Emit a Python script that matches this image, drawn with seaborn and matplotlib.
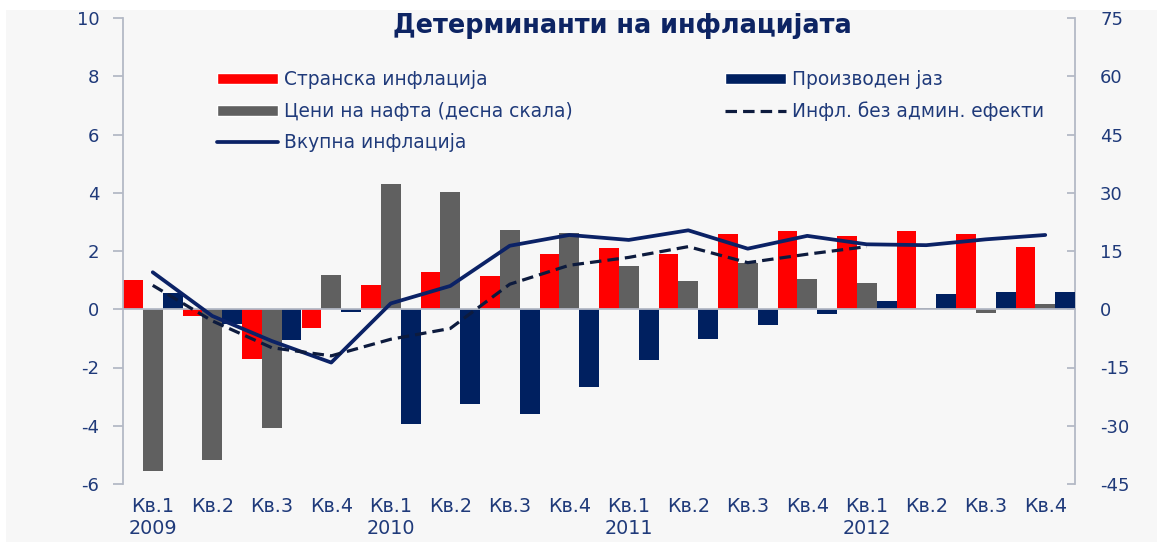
import numpy as np
import pandas as pd
import matplotlib
matplotlib.use("Agg")
import matplotlib.pyplot as plt
from matplotlib.patches import Patch, Rectangle
from matplotlib.lines import Line2D
import seaborn as sns

# data
quarters = ["Кв.1\n2009", "Кв.2", "Кв.3", "Кв.4",
            "Кв.1\n2010", "Кв.2", "Кв.3", "Кв.4",
            "Кв.1\n2011", "Кв.2", "Кв.3", "Кв.4",
            "Кв.1\n2012", "Кв.2", "Кв.3", "Кв.4"]
foreign_infl = [1.0, -0.23, -1.7, -0.64, 0.82, 1.27, 1.13, 1.89,
                2.1, 1.89, 2.57, 2.68, 2.5, 2.68, 2.57, 2.13]
output_gap = [0.55, -0.52, -1.07, -0.09, -3.95, -3.27, -3.6, -2.67,
              -1.75, -1.03, -0.55, -0.18, 0.27, 0.52, 0.6, 0.6]
oil_prices = [-41.7, -38.8, -30.5, 8.8, 32.2, 30.1, 20.4, 19.6,
              11.2, 7.3, 12.0, 7.8, 6.7, 0.4, -1.0, 1.3]  # right scale
total_infl = [1.27, -0.23, -1.09, -1.83, 0.2, 0.8, 2.18, 2.55,
              2.38, 2.71, 2.08, 2.52, 2.23, 2.2, 2.4, 2.55]
infl_no_admin = [0.82, -0.4, -1.32, -1.6, -1.03, -0.66, 0.86, 1.51,
                 1.78, 2.15, 1.6, 1.89, 2.15]

names = ["Странска инфлација", "Цени на нафта (десна скала)", "Производен јаз"]
colors = {names[0]: "#ff0000", names[1]: "#606060", names[2]: "#002060"}
navy_text = "#1f3a7a"
spine_col = "#b4b9c6"
dash = (0, (3.6, 1.9))

idx = np.arange(len(quarters))
left_df = pd.concat([
    pd.DataFrame({"q": idx, "val": foreign_infl, "series": names[0]}),
    pd.DataFrame({"q": idx, "val": output_gap, "series": names[2]}),
])
right_df = pd.DataFrame({"q": idx, "val": oil_prices, "series": names[1]})

sns.set_style("white")
plt.rcParams["font.family"] = ["DejaVu Sans"]
plt.rcParams["axes.unicode_minus"] = False

fig = plt.figure(figsize=(11.57, 5.42), dpi=100)
fig.patch.set_facecolor("white")
fig.patches.append(Rectangle((6 / 1157, 0), 1, 1 - 10 / 542, transform=fig.transFigure,
                             facecolor="#f7f7f7", edgecolor="none", zorder=-10))
ax = fig.add_axes([123 / 1157, 1 - 484 / 542, (1075 - 123) / 1157, (484 - 18) / 542])
ax2 = ax.twinx()

# oil prices on the right scale, the rest on the left scale
sns.barplot(data=right_df, x="q", y="val", hue="series", hue_order=names,
            palette=colors, width=1.0, saturation=1, ax=ax2, legend=False,
            errorbar=None, linewidth=0, dodge=True)
sns.barplot(data=left_df, x="q", y="val", hue="series", hue_order=names,
            palette=colors, width=1.0, saturation=1, ax=ax, legend=False,
            errorbar=None, linewidth=0, dodge=True)
sns.lineplot(x=idx, y=total_infl, ax=ax, color="#0b2266", lw=2.7, zorder=5)
sns.lineplot(x=idx[:len(infl_no_admin)], y=infl_no_admin, ax=ax, color="#0d1b3e",
             lw=2.3, ls=dash, zorder=5)

ax.set_zorder(ax2.get_zorder() + 1)
ax.patch.set_visible(False)
ax2.patch.set_visible(False)

ax.set_xlim(-0.5, 15.5)
ax.set_ylim(-6, 10)
ax2.set_ylim(-45, 75)
ax.set_yticks(np.arange(-6, 11, 2))
ax2.set_yticks(np.arange(-45, 76, 15))
ax.set_xticks(idx)
ax.set_xticklabels(quarters, color=navy_text, linespacing=1.35, va="top")
ax.set_xticks(idx[:-1] + 0.5, minor=True)
ax.set_xlabel("")
ax.set_ylabel("")
ax2.set_ylabel("")

for a in (ax, ax2):
    a.spines["top"].set_visible(False)
    for s in ("left", "right", "bottom"):
        a.spines[s].set_color(spine_col)
        a.spines[s].set_linewidth(1.3)
ax.spines["right"].set_visible(False)
ax2.spines["left"].set_visible(False)
ax2.spines["bottom"].set_visible(False)
ax.spines["bottom"].set_position(("data", 0))

ax.tick_params(axis="y", direction="out", length=7, width=1.3, color=spine_col,
               labelcolor=navy_text, labelsize=13, pad=10)
ax2.tick_params(axis="y", direction="in", length=6, width=1.3, color=spine_col,
                labelcolor=navy_text, labelsize=13, pad=18)
ax.tick_params(axis="x", which="major", length=0, pad=135, labelsize=13.8,
               labelcolor=navy_text)
ax.tick_params(axis="x", which="minor", direction="out", length=6, width=1.3,
               color=spine_col)

ax.set_title("Детерминанти на инфлацијата", fontsize=18.4, fontweight="bold",
             color="#0d2463", x=0.525, y=1.0, pad=-11)

handles = [
    Patch(facecolor=colors[names[0]], label=names[0]),
    Patch(facecolor=colors[names[1]], label=names[1]),
    Line2D([], [], color="#0b2266", lw=2.7, label="Вкупна инфлација"),
    Patch(facecolor=colors[names[2]], label=names[2]),
    Line2D([], [], color="#0d1b3e", lw=2.3, ls=dash, label="Инфл. без админ. ефекти"),
]
leg = ax.legend(handles=handles, ncol=2, loc="upper left",
                bbox_to_anchor=(217 / 1157, 1 - 70 / 542), bbox_transform=fig.transFigure,
                frameon=False, borderpad=0, borderaxespad=0, fontsize=13.4,
                handlelength=3.27, handleheight=0.54, handletextpad=0.32,
                labelspacing=0.68, columnspacing=8.2)
for t in leg.get_texts():
    t.set_color(navy_text)

fig.savefig("out.png", dpi=100, facecolor=fig.get_facecolor())
